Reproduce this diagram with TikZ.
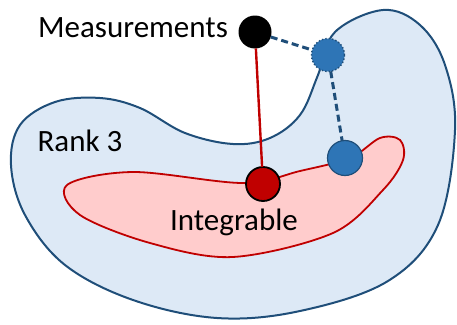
\documentclass[tikz,border=0pt]{standalone}
\usepackage{fontspec}
\setmainfont{Carlito}
\definecolor{rankfill}{RGB}{221,233,246}
\definecolor{rankline}{RGB}{31,78,121}
\definecolor{intfill}{RGB}{255,204,204}
\definecolor{intline}{RGB}{192,0,0}
\definecolor{ptblue}{RGB}{46,117,182}
\tikzset{
  pt/.style={circle, inner sep=0pt, outer sep=0pt, minimum size=#1},
  link/.style={line width=3pt, rankline, dash pattern=on 7pt off 4pt},
  lbl/.style={font=\fontsize{31}{36}\selectfont, inner sep=0pt}
}

\begin{document}
\begin{tikzpicture}[x=1pt,y=-1pt]
\useasboundingbox (0,0) rectangle (457,324);
% rank 3 region
\draw[fill=rankfill, draw=rankline, line width=2pt] plot[smooth cycle, tension=0.6] coordinates {
  (383,10) (420,25) (445,65) (455,130) (438,225) (388,281) (300,311) (217,318)
  (133,300) (65,265) (25,215) (11,165) (20,125) (55,102) (100,98) (140,108)
  (185,133) (233,144) (270,138) (300,115) (318,75) (335,32)};
% integrable region
\draw[fill=intfill, draw=intline, line width=1.8pt] plot[smooth cycle, tension=0.55] coordinates {
  (67,185) (133,172) (243,183) (300,171) (350,158) (380,138) (400,140) (403,160)
  (383,190) (333,233) (233,257) (150,243) (80,215)};
\node[lbl] (meas) at (133,28) {Measurements};
\node[lbl] (rank) at (80,141) {Rank 3};
\node[lbl] (integ) at (234,222) {Integrable};
\node[pt=33pt, fill=black] (mp) at (255,32) {};
\node[pt=33pt, fill=ptblue, draw=rankline, line width=1.4pt, dotted] (proj) at (328,55) {};
\node[pt=35pt, fill=ptblue, draw=rankline, line width=1.2pt] (rp) at (345,158) {};
\node[pt=34pt, fill=intline, draw=black, line width=1.8pt] (ip) at (263,184) {};
\draw[intline, line width=2.4pt] (mp) -- (ip);
\draw[link] (mp) -- (proj);
\draw[link] (proj) -- (rp);
\end{tikzpicture}
\end{document}
